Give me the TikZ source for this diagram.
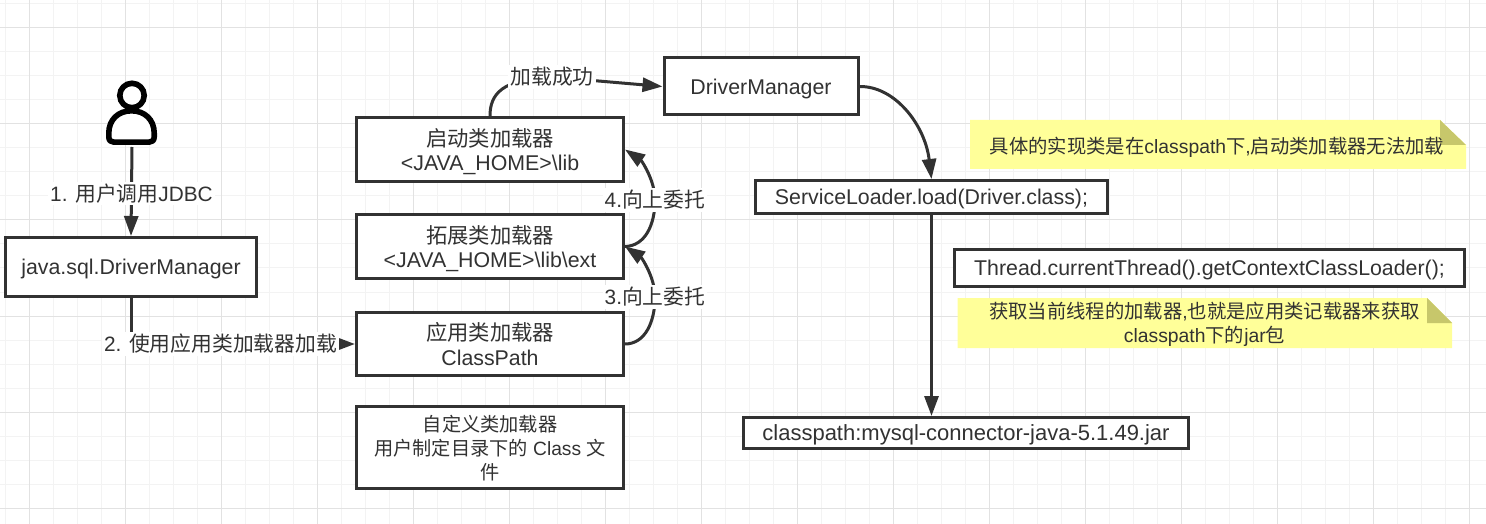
\documentclass[tikz,border=0pt]{standalone}
\usepackage{fontspec}
\usepackage{xcolor}
\setmainfont{Liberation Sans}
\newfontfamily\cjkfont{Noto Sans CJK SC}
\newcommand{\zh}[1]{{\cjkfont #1}}
\usetikzlibrary{arrows.meta}

\definecolor{inkgray}{RGB}{50,50,50}
\definecolor{gridminor}{RGB}{243,243,243}
\definecolor{gridmajor}{RGB}{226,226,226}
\definecolor{noteyellow}{RGB}{255,255,153}
\definecolor{notefold}{RGB}{199,199,107}

\tikzset{
  classbox/.style={draw=inkgray,line width=2.25pt,fill=white,text=inkgray,inner sep=0pt,align=center,text depth=0pt,font=\fontsize{16pt}{18.5pt}\selectfont},
  flow/.style={draw=inkgray,line width=2.25pt,-{Triangle[length=15pt,width=10.5pt]}},
  flowlabel/.style={fill=white,text=inkgray,inner sep=1.5pt,font=\fontsize{15.6pt}{18pt}\selectfont},
  notetext/.style={text=inkgray,align=center,inner sep=0pt,font=\fontsize{14.5pt}{18pt}\selectfont},
}

\begin{document}
\begin{tikzpicture}[x=0.75pt,y=0.75pt,yscale=-1,xscale=1]
\useasboundingbox (0,0) rectangle (1486,524);
\fill [white] (0,0) rectangle (1486,524);

%Grid
\foreach \gx in {5.5,29.5,...,1486} {\draw [gridminor,line width=0.75pt] (\gx,0) -- (\gx,524);}
\foreach \gy in {4,28,...,524} {\draw [gridminor,line width=0.75pt] (0,\gy) -- (1486,\gy);}
\foreach \gx in {29.5,125.5,...,1486} {\draw [gridmajor,line width=0.75pt] (\gx,0) -- (\gx,524);}
\foreach \gy in {28,124,...,524} {\draw [gridmajor,line width=0.75pt] (0,\gy) -- (1486,\gy);}

%Person
\draw [black,line width=4.2pt,fill=white,line join=round] (108.8,133) .. controls (108.8,120) and (118,110.8) .. (131.5,110.8) .. controls (145,110.8) and (154.2,120) .. (154.2,133) -- (154.2,137) .. controls (154.2,140.5) and (152,142.2) .. (149,142.2) -- (114,142.2) .. controls (111,142.2) and (108.8,140.5) .. (108.8,137) -- cycle;
\draw [black,line width=4.2pt,fill=white] (132,95.5) circle (12.2);
\coordinate (user) at (132,147);

%Boxes
\node [classbox,minimum width=188.25pt,minimum height=44.25pt] (driverapi) at (131,267) {java.sql.DriverManager};
\node [classbox,minimum width=200.25pt,minimum height=48pt] (bootloader) at (490,149.5) {\zh{启动类加载器}\\<JAVA\_HOME>\textbackslash lib};
\node [classbox,minimum width=200.25pt,minimum height=48pt] (extloader) at (490,246.5) {\zh{拓展类加载器}\\<JAVA\_HOME>\textbackslash lib\textbackslash ext};
\node [classbox,minimum width=200.25pt,minimum height=47.25pt] (apploader) at (490,344) {\zh{应用类加载器}\\ClassPath};
\node [classbox,minimum width=200.25pt,minimum height=61.5pt,font=\fontsize{14.4pt}{18pt}\selectfont] (customloader) at (490,447.5) {\zh{自定义类加载器}\\\zh{用户制定目录下的} Class \zh{文}\\\zh{件}};
\node [classbox,minimum width=145.5pt,minimum height=42.75pt] (drivermgr) at (761,86.5) {DriverManager};
\node [classbox,minimum width=264pt,minimum height=24.75pt] (svcload) at (931.5,197) {ServiceLoader.load(Driver.class);};
\node [classbox,minimum width=382.5pt,minimum height=27.75pt] (threadload) at (1209.5,268) {Thread.currentThread().getContextClassLoader();};
\node [classbox,minimum width=333.75pt,minimum height=23.25pt,font=\fontsize{16.5pt}{18.5pt}\selectfont] (jarbox) at (966,433) {classpath:mysql-connector-java-5.1.49.jar};

%Notes
\fill [noteyellow] (970,120) -- (1440,120) -- (1466,145) -- (1466,169) -- (970,169) -- cycle;
\fill [notefold] (1440,120) -- (1466,145) -- (1440,145) -- cycle;
\node [notetext] (bootnote) at (1217,147) {\zh{具体的实现类是在}classpath\zh{下},\zh{启动类加载器无法加载}};
\fill [noteyellow] (957.5,298) -- (1427,298) -- (1452,323) -- (1452,348) -- (957.5,348) -- cycle;
\fill [notefold] (1427,298) -- (1452,323) -- (1427,323) -- cycle;
\node [notetext] (threadnote) at (1204.5,324) {\zh{获取当前线程的加载器},\zh{也就是应用类记载器来获取}\\classpath\zh{下的}jar\zh{包}};

%Connectors
\draw [flow] (user) -- (driverapi.north) node [flowlabel,pos=0.52] (calllabel) {1. \zh{用户调用}JDBC};
\draw [flow] (driverapi.south) |- (apploader.west) node [flowlabel,pos=0.70] (loadlabel) {2. \zh{使用应用类加载器加载}};
\draw [flow] (bootloader.north) .. controls (490,94) and (502,79) .. (552,77) node [flowlabel] (oklabel) {\zh{加载成功}} -- (drivermgr.west);
\draw [flow] (drivermgr.east) .. controls (895,86) and (925,125) .. (svcload.north);
\draw [flow] (svcload.south) -- (svcload.south |- jarbox.north);
\draw [flow] (apploader.east) .. controls (645,344) and (655,322) .. (655,297) node [flowlabel] (uplabela) {3.\zh{向上委托}} .. controls (655,278) and (642,258) .. (extloader.east);
\draw [flow] (extloader.east) .. controls (645,246) and (655,225) .. (655,200) node [flowlabel] (uplabelb) {4.\zh{向上委托}} .. controls (655,181) and (642,161) .. (bootloader.east);

\end{tikzpicture}
\end{document}
